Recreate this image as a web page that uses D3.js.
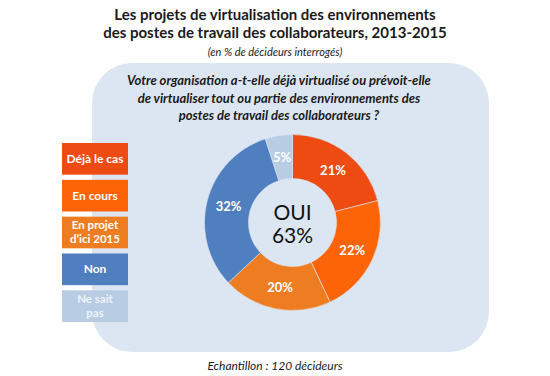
<!DOCTYPE html>
<html>
<head>
<meta charset="utf-8">
<script src="https://cdn.jsdelivr.net/npm/d3@7"></script>
<style>
  body { margin: 0; background: #fff; }
  svg { display: block; font-family: Lato, "Open Sans", sans-serif; }
</style>
</head>
<body>
<div id="chart"></div>
<script>
// données
var categories = ["Déjà le cas", "En cours", "En projet d’ici 2015", "Non", "Ne sait pas"];
var legendLines = [["Déjà le cas"], ["En cours"], ["En projet", "d’ici 2015"], ["Non"], ["Ne sait", "pas"]];
var values = [21, 22, 20, 32, 5];
var colors = ["#ee4b12", "#fd6408", "#ee7d22", "#4f7fbe", "#b8cce4"];
var titleLines = ["Les projets de virtualisation des environnements",
                  "des postes de travail des collaborateurs, 2013-2015"];
var subtitle = "(en % de décideurs interrogés)";
var questionLines = ["Votre organisation a-t-elle déjà virtualisé ou prévoit-elle",
                     "de virtualiser tout ou partie des environnements des",
                     "postes de travail des collaborateurs ?"];
var centerLines = ["OUI", "63%"];
var footer = "Echantillon : 120 décideurs";

var width = 550, height = 376;

var svg = d3.select("#chart").append("svg")
    .attr("width", width)
    .attr("height", height);

// fond bleu arrondi
svg.append("rect")
    .attr("x", 92).attr("y", 63)
    .attr("width", 397).attr("height", 289)
    .attr("rx", 40).attr("ry", 40)
    .style("fill", "#dce6f2");

// titre
svg.selectAll(".title")
    .data(titleLines)
    .enter().append("text")
    .attr("class", "title")
    .attr("x", 275)
    .attr("y", function (d, i) { return 20 + i * 18; })
    .attr("text-anchor", "middle")
    .style("font-size", "15px")
    .style("font-weight", "bold")
    .style("fill", "#1a1a1a")
    .text(function (d) { return d; });

svg.append("text")
    .attr("x", 275).attr("y", 56)
    .attr("text-anchor", "middle")
    .style("font-size", "11px")
    .style("font-style", "italic")
    .style("fill", "#1a1a1a")
    .text(subtitle);

// question
svg.selectAll(".question")
    .data(questionLines)
    .enter().append("text")
    .attr("class", "question")
    .attr("x", 279)
    .attr("y", function (d, i) { return 85 + i * 17.5; })
    .attr("text-anchor", "middle")
    .style("font-size", "13px")
    .style("font-weight", "bold")
    .style("font-style", "italic")
    .style("fill", "#1a1a1a")
    .text(function (d) { return d; });

// légende
var ly = d3.scaleBand().domain(categories).range([143, 322]).paddingInner(0.14);
var legend = svg.append("g").attr("class", "legend");
var item = legend.selectAll(".item")
    .data(categories)
    .enter().append("g")
    .attr("class", "item")
    .attr("transform", function (d) { return "translate(62," + ly(d) + ")"; });

item.append("rect")
    .attr("width", 66)
    .attr("height", ly.bandwidth())
    .style("fill", function (d, i) { return colors[i]; });

item.each(function (d, i) {
    var lines = legendLines[i];
    var g = d3.select(this);
    var h = ly.bandwidth();
    lines.forEach(function (t, j) {
        g.append("text")
            .attr("x", 33)
            .attr("y", h / 2 + (j - (lines.length - 1) / 2) * 14 + 4)
            .attr("text-anchor", "middle")
            .style("font-size", lines.length > 1 ? "11.5px" : "12px")
            .style("font-weight", "bold")
            .style("fill", i === 4 ? "#eef3fa" : "#fff")
            .text(t);
    });
});

// anneau
var cx = 292.5, cy = 222.5, outerR = 88, innerR = 44;
var pie = d3.pie().sort(null).value(function (d) { return d; });
var arc = d3.arc().innerRadius(innerR).outerRadius(outerR);
var labelArc = d3.arc().innerRadius(66).outerRadius(66);

var donut = svg.append("g").attr("transform", "translate(" + cx + "," + cy + ")");
var arcs = pie(values);

donut.selectAll(".slice")
    .data(arcs)
    .enter().append("path")
    .attr("class", "slice")
    .attr("d", arc)
    .style("fill", function (d, i) { return colors[i]; })
    .style("stroke", "#dce6f2")
    .style("stroke-width", 0.6);

donut.selectAll(".label")
    .data(arcs)
    .enter().append("text")
    .attr("class", "label")
    .attr("transform", function (d) { return "translate(" + labelArc.centroid(d) + ")"; })
    .attr("dy", "0.35em")
    .attr("text-anchor", "middle")
    .style("font-size", "13px")
    .style("font-weight", "bold")
    .style("fill", "#fff")
    .text(function (d) { return d.data + "%"; });

donut.selectAll(".center")
    .data(centerLines)
    .enter().append("text")
    .attr("class", "center")
    .attr("x", 0)
    .attr("y", function (d, i) { return -3 + i * 23; })
    .attr("text-anchor", "middle")
    .style("font-size", "21px")
    .style("fill", "#111")
    .text(function (d) { return d; });

// échantillon
svg.append("text")
    .attr("x", 275).attr("y", 370)
    .attr("text-anchor", "middle")
    .style("font-size", "12px")
    .style("font-style", "italic")
    .style("fill", "#1a1a1a")
    .text(footer);
</script>
</body>
</html>
